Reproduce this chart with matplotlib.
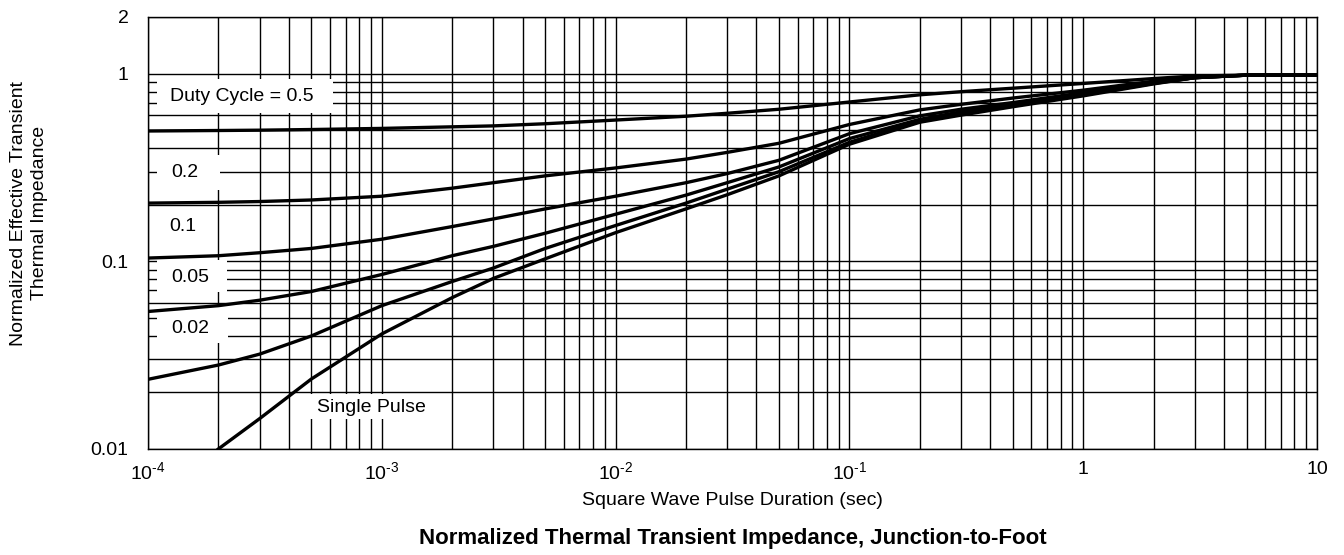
import numpy as np
import matplotlib
matplotlib.use("Agg")
import matplotlib.pyplot as plt
from matplotlib.ticker import FixedLocator, LogLocator, NullFormatter
from matplotlib.patches import Rectangle

plt.rcParams['font.family'] = ['Liberation Sans', 'DejaVu Sans']
plt.rcParams['mathtext.fontset'] = 'custom'
plt.rcParams['mathtext.rm'] = 'Liberation Sans'
plt.rcParams['mathtext.default'] = 'regular'

# pulse duration (sec)
t = [1e-4, 2e-4, 3e-4, 5e-4, 1e-3, 2e-3, 3e-3, 5e-3, 1e-2, 2e-2, 3e-2, 5e-2,
     0.1, 0.2, 0.3, 0.5, 1, 2, 3, 5, 10]

# normalized effective transient thermal impedance
z_d05 = [0.494, 0.497, 0.499, 0.503, 0.51, 0.52, 0.526, 0.54, 0.565, 0.592, 0.614, 0.645,
         0.705, 0.77, 0.80, 0.835, 0.885, 0.94, 0.97, 0.98, 0.98]
z_d02 = [0.204, 0.206, 0.208, 0.212, 0.222, 0.245, 0.262, 0.285, 0.314, 0.35, 0.38, 0.425,
         0.535, 0.64, 0.685, 0.74, 0.815, 0.91, 0.955, 0.98, 0.98]
z_d01 = [0.104, 0.107, 0.111, 0.117, 0.131, 0.153, 0.168, 0.19, 0.222, 0.262, 0.293, 0.345,
         0.478, 0.595, 0.645, 0.70, 0.79, 0.895, 0.95, 0.98, 0.98]
z_d005 = [0.054, 0.058, 0.062, 0.069, 0.085, 0.107, 0.12, 0.141, 0.178, 0.225, 0.262, 0.318,
          0.45, 0.57, 0.625, 0.685, 0.775, 0.89, 0.95, 0.98, 0.98]
z_d002 = [0.0235, 0.028, 0.032, 0.040, 0.058, 0.078, 0.092, 0.117, 0.155, 0.204, 0.242, 0.30,
          0.43, 0.56, 0.612, 0.675, 0.77, 0.885, 0.95, 0.98, 0.98]
z_single = [np.nan, 0.01, 0.0145, 0.0236, 0.041, 0.064, 0.081, 0.103, 0.142, 0.19, 0.226, 0.285,
            0.42, 0.55, 0.60, 0.665, 0.76, 0.88, 0.95, 0.98, 0.98]

curves = [z_d05, z_d02, z_d01, z_d005, z_d002, z_single]

x_ticks = [1e-4, 1e-3, 1e-2, 1e-1, 1, 10]
x_ticklabels = ['$10^{\\text{-}4}$', '$10^{\\text{-}3}$', '$10^{\\text{-}2}$',
                '$10^{\\text{-}1}$', '1', '10']
y_ticks = [0.01, 0.1, 1, 2]
y_ticklabels = ['0.01', '0.1', '1', '2']
y_grid = [0.02, 0.03, 0.04, 0.05, 0.06, 0.07, 0.08, 0.09,
          0.2, 0.3, 0.4, 0.5, 0.6, 0.7, 0.8, 0.9]

# curve labels: text, text position, white box (axes fractions)
labels = ['Duty Cycle = 0.5', '0.2', '0.1', '0.05', '0.02', 'Single Pulse']
label_xy = [(0.0804, 0.817), (0.0317, 0.641), (0.0299, 0.514),
            (0.0359, 0.398), (0.0359, 0.280), (0.1908, 0.097)]
label_box = [(0.0077, 0.778, 0.1506, 0.079), (0.0077, 0.600, 0.0539, 0.081),
             (0.0077, 0.472, 0.0470, 0.081), (0.0077, 0.363, 0.0599, 0.074),
             (0.0077, 0.245, 0.0607, 0.088), (0.1360, 0.069, 0.1180, 0.058)]

fig = plt.figure(figsize=(13.44, 5.55), dpi=100)
ax = fig.add_axes([0.1101, 0.1910, 0.8698, 0.7784])

ax.set_xscale('log')
ax.set_yscale('log')
ax.set_xlim(1e-4, 10)
ax.set_ylim(0.01, 2)

ax.xaxis.set_major_locator(FixedLocator(x_ticks))
ax.set_xticklabels(x_ticklabels)
ax.xaxis.set_minor_locator(LogLocator(base=10, subs=np.arange(2, 10), numticks=20))
ax.xaxis.set_minor_formatter(NullFormatter())
ax.yaxis.set_major_locator(FixedLocator(y_ticks))
ax.set_yticklabels(y_ticklabels)
ax.yaxis.set_minor_locator(FixedLocator(y_grid))
ax.yaxis.set_minor_formatter(NullFormatter())

ax.tick_params(which='both', length=0, labelsize=14)
ax.tick_params(axis='x', pad=9)
ax.tick_params(axis='y', pad=14)

ax.set_axisbelow(True)
ax.grid(True, which='both', color='black', linewidth=1.0)
for s in ax.spines.values():
    s.set_linewidth(1.0)
    s.set_zorder(5)

for z in curves:
    ax.plot(t, z, color='black', linewidth=2.4, solid_joinstyle='round', zorder=3)

for txt, (tx, ty), (bx, by, bw, bh) in zip(labels, label_xy, label_box):
    ax.add_patch(Rectangle((bx, by), bw, bh, transform=ax.transAxes,
                           facecolor='white', edgecolor='none', zorder=2))
    ax.text(tx, ty, txt, transform=ax.transAxes, ha='center', va='center',
            fontsize=14, zorder=4)

ax.set_xlabel('Square Wave Pulse Duration (sec)', fontsize=14, labelpad=6)
fig.text(0.0215, 0.616, 'Normalized Effective Transient\nThermal Impedance',
         rotation=90, ha='center', va='center', multialignment='center',
         fontsize=14, linespacing=1.3)
fig.text(0.545, 0.029, 'Normalized Thermal Transient Impedance, Junction-to-Foot',
         ha='center', va='center', fontsize=16, fontweight='bold')

fig.savefig('out.png', dpi=100)
